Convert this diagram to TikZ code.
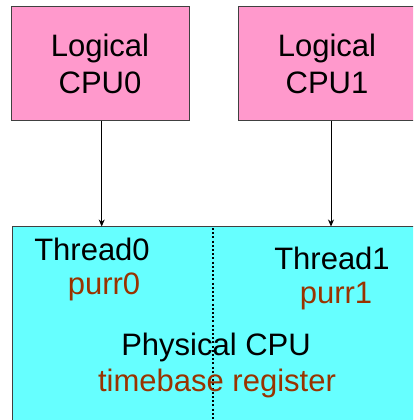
\documentclass[tikz,border=0pt]{standalone}
\usepackage{fontspec}
\setmainfont{Liberation Sans}
\usetikzlibrary{arrows.meta,positioning}
\definecolor{cpupink}{HTML}{FF99CC}
\definecolor{corecyan}{HTML}{66FFFF}
\definecolor{regbrown}{HTML}{993300}

\tikzset{
  bigfont/.style={font=\fontsize{31}{37}\selectfont},
  logbox/.style={draw=black!75, line width=1pt, fill=cpupink, minimum width=178pt,
    minimum height=113pt, align=center, bigfont},
  lbl/.style={anchor=base, inner sep=0pt, bigfont},
  reg/.style={lbl, text=regbrown},
}

\begin{document}
\begin{tikzpicture}[x=1pt, y=-1pt]
 \useasboundingbox (0,0) rectangle (413,420);
 \clip (0,0) rectangle (413,420);

 % physical core
 \draw[draw=black!75, line width=1pt, fill=corecyan] (12.7,226.5) rectangle (440,440);
 \coordinate (phystop) at (12.7,226.5);
 \draw[line width=2pt, dash pattern=on 2pt off 2.2pt] (213.3,228) -- (213.3,420);

 % logical cpus
 \node[logbox] (cpu0) at (100,63.5) {Logical\\CPU0};
 \node[logbox] (cpu1) at (327,63.5) {Logical\\CPU1};

 \draw[-{Stealth[length=7pt,width=6pt]}, line width=0.8pt] ([xshift=1.7pt]cpu0.south) -- ([xshift=1.7pt]cpu0.south |- phystop);
 \draw[-{Stealth[length=7pt,width=6pt]}, line width=0.8pt] ([xshift=4pt]cpu1.south) -- ([xshift=4pt]cpu1.south |- phystop);

 % thread labels
 \node[lbl] (t0) at (92,260.7) {Thread0};
 \node[reg] (p0) at (104,294) {purr0};
 \node[lbl] (t1) at (332,269) {Thread1};
 \node[reg] (p1) at (336,303) {purr1};
 \node[lbl] (pc) at (216,355.5) {Physical CPU};
 \node[reg] (tb) at (217,391) {timebase register};
\end{tikzpicture}
\end{document}
